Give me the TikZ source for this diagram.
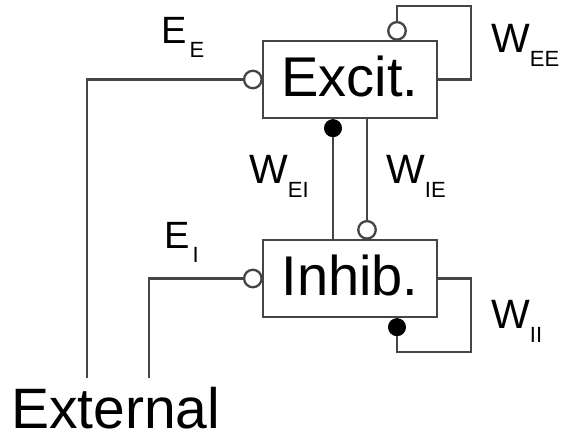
\documentclass[tikz,border=0pt]{standalone}
\usepackage{fontspec}
\setmainfont{Liberation Sans}
\usetikzlibrary{calc}
\newcommand{\subf}[1]{\raisebox{-14pt}{\fontsize{22}{22}\selectfont #1}}
\begin{document}
\begin{tikzpicture}[x=1pt,y=-1pt,
  conn/.style={draw=linegray, line width=2.3pt},
  opencirc/.style={circle, draw=linegray, line width=2.3pt, fill=white, minimum size=17.5pt, inner sep=0pt},
  fillcirc/.style={circle, draw=black, line width=1pt, fill=black, minimum size=17pt, inner sep=0pt},
  popbox/.style={draw=linegray, line width=2.3pt, minimum width=174pt, minimum height=77pt,
     inner sep=0pt, text height=40pt, text depth=6pt, font=\fontsize{56}{60}\selectfont},
  wlab/.style={anchor=base west, inner sep=0pt, font=\fontsize{41}{44}\selectfont},
  elab/.style={anchor=base west, inner sep=0pt, font=\fontsize{38}{42}\selectfont},
]
\definecolor{linegray}{HTML}{454545}
\useasboundingbox (0,0) rectangle (562,439);
\fill[white] (0,0) rectangle (562,439);

\node[popbox] (exc) at (350,79.5) {Excit.};
\node[popbox] (inh) at (350,278.5) {Inhib.};
\node[anchor=base west, inner sep=0pt, font=\fontsize{57}{60}\selectfont] (ext) at (11,428) {External};

\coordinate (e1) at (87,378);
\coordinate (e2) at (149,378);
\coordinate (eeA) at (471,6);
\coordinate (eeB) at (397,6);
\coordinate (iiA) at (471,352);
\coordinate (iiB) at (397,352);
\coordinate (xEI) at (333,0);
\coordinate (xIE) at (367,0);

% synapse markers
\node[opencirc] (sEE) at ($(eeB |- exc.north)+(0,-9)$) {};
\node[fillcirc] (sII) at ($(iiB |- inh.south)+(0,9)$) {};
\node[fillcirc] (sEI) at ($(xEI |- exc.south)+(0,9)$) {};
\node[opencirc] (sIE) at ($(xIE |- inh.north)+(0,-9)$) {};
\node[opencirc] (sE) at ($(exc.west)+(-9,0)$) {};
\node[opencirc] (sI) at ($(inh.west)+(-9,0)$) {};

% external inputs
\draw[conn] (e1) |- (sE);
\draw[conn] (e2) |- (sI);
% self loops
\draw[conn] (exc.east) -| (eeA) -- (eeB) -- (sEE);
\draw[conn] (inh.east) -| (iiA) -- (iiB) -- (sII);
% cross connections
\draw[conn] (xEI |- inh.north) -- (sEI);
\draw[conn] (xIE |- exc.south) -- (sIE);

% labels
\node[elab] (lEE) at (161,43) {E\kern3pt\subf{E}};
\node[elab] (lEI) at (164,248) {E\kern3pt\subf{I}};
\node[wlab] (lWEE) at (491,52) {W\subf{EE}};
\node[wlab] (lWEI) at (249,183) {W\subf{EI}};
\node[wlab] (lWIE) at (386,183) {W\subf{IE}};
\node[wlab] (lWII) at (491,328) {W\subf{II}};
\end{tikzpicture}
\end{document}
